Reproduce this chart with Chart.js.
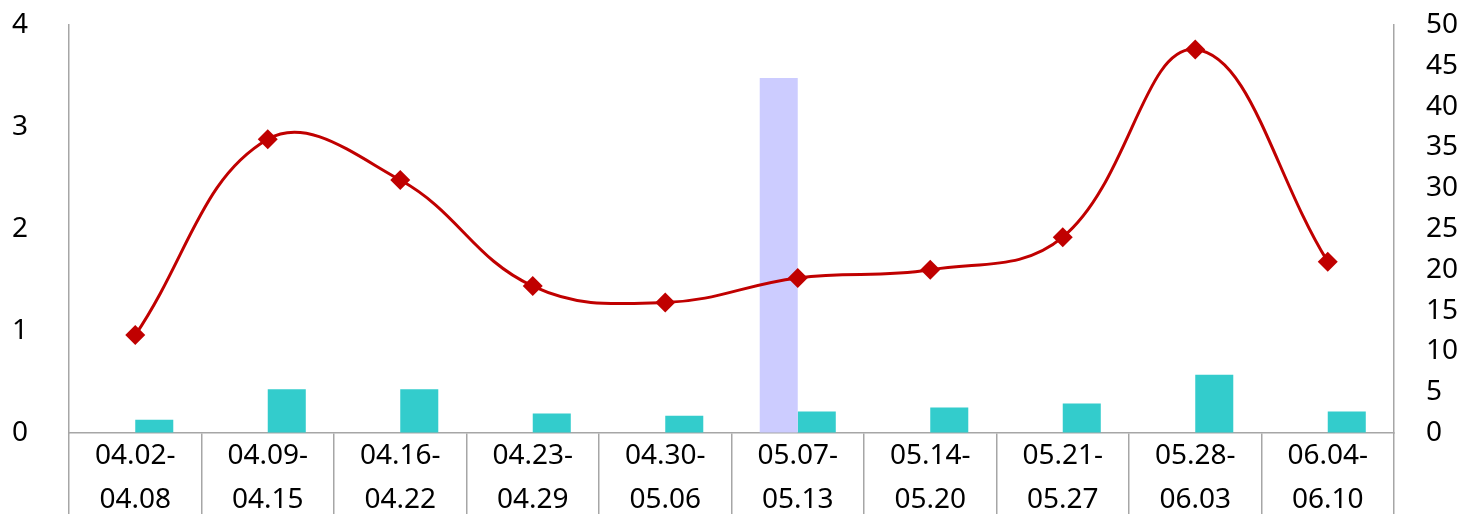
<!doctype html>
<html lang="en">
 <head>
  <meta charset="utf-8">
  <style>
html, body { margin: 0; padding: 0; background: #fff; overflow: hidden; }
.chart-box { width: 1470px; height: 514px; position: relative; }
  </style>
  <title>Weekly chart</title>
 </head>
 <body>
  <div class="chart-box"><canvas id="weekchart"></canvas></div>

  <script src="https://cdn.jsdelivr.net/npm/chart.js@4.4.1/dist/chart.umd.min.js"></script>
  <script>
// week ranges, shown on two lines under each category
var weekFrom = ['04.02-', '04.09-', '04.16-', '04.23-', '04.30-', '05.07-', '05.14-', '05.21-', '05.28-', '06.04-'];
var weekTo = ['04.08', '04.15', '04.22', '04.29', '05.06', '05.13', '05.20', '05.27', '06.03', '06.10'];

// left axis (0-4)
var highlightBar = [0, 0, 0, 0, 0, 3.48, 0, 0, 0, 0];
var cyanBars = [0.13, 0.43, 0.43, 0.19, 0.17, 0.21, 0.25, 0.29, 0.57, 0.21];

// right axis (0-50)
var lineValues = [12, 36, 31, 18, 16, 19, 20, 24, 47, 21];

var leftTicks = [0, 1, 2, 3, 4];
var rightTicks = [0, 5, 10, 15, 20, 25, 30, 35, 40, 45, 50];

var labels = weekFrom.map(function (f, i) { return [f, weekTo[i]]; });

var axisGrey = '#a6a6a6';
var tickFont = { family: 'Noto Sans', size: 28, lineHeight: 44 / 28 };

// fixed axis sizes so the plot area lands where the original has it
function fixWidth(w) {
  return function (scale) {
    scale.width = w;
    scale.paddingTop = 0;
    scale.paddingBottom = 0;
  };
}

const chartConfig = {
  type: 'bar',
  data: {
    labels: labels,
    datasets: [
      {
        type: 'line',
        data: lineValues,
        yAxisID: 'y1',
        borderColor: '#c00000',
        backgroundColor: '#c00000',
        borderWidth: 3,
        tension: 0.4,
        pointStyle: 'rectRot',
        pointRadius: 10,
        pointBorderWidth: 0,
        order: 0
      },
      {
        data: highlightBar,
        yAxisID: 'y',
        backgroundColor: '#ccccff',
        categoryPercentage: 0.574,
        barPercentage: 1,
        order: 1
      },
      {
        data: cyanBars,
        yAxisID: 'y',
        backgroundColor: '#33cccc',
        categoryPercentage: 0.574,
        barPercentage: 1,
        order: 1
      }
    ]
  },
  options: {
    animation: false,
    responsive: true,
    maintainAspectRatio: false,
    devicePixelRatio: 1,
    layout: { padding: { top: 25, left: 0, right: 0, bottom: 0 } },
    scales: {
      x: {
        offset: true,
        grid: {
          offset: true,
          drawOnChartArea: false,
          drawTicks: true,
          tickLength: 81,
          color: axisGrey,
          lineWidth: 1.5
        },
        border: { display: true, color: axisGrey, width: 1.5 },
        ticks: {
          color: '#000',
          font: tickFont,
          padding: -80,
          maxRotation: 0,
          autoSkip: false
        },
        afterFit: function (scale) {
          scale.height = 81;
          scale.paddingLeft = 0;
          scale.paddingRight = 0;
        }
      },
      y: {
        position: 'left',
        min: 0,
        max: 4,
        afterBuildTicks: function (scale) {
          scale.ticks = leftTicks.map(function (v) { return { value: v }; });
        },
        grid: { drawOnChartArea: false, drawTicks: false },
        border: { display: true, color: axisGrey, width: 1.5 },
        ticks: { color: '#000', font: tickFont, padding: 41, autoSkip: false },
        afterFit: fixWidth(69)
      },
      y1: {
        position: 'right',
        min: 0,
        max: 50,
        afterBuildTicks: function (scale) {
          scale.ticks = rightTicks.map(function (v) { return { value: v }; });
        },
        grid: { drawOnChartArea: false, drawTicks: false },
        border: { display: true, color: axisGrey, width: 1.5 },
        ticks: { color: '#000', font: tickFont, padding: 32, autoSkip: false },
        afterFit: fixWidth(76)
      }
    },
    plugins: {
      legend: { display: false },
      title: { display: false },
      tooltip: { enabled: false }
    }
  }
};

const weekChart = new Chart(document.getElementById('weekchart'), chartConfig);
  </script>
 </body>
</html>
